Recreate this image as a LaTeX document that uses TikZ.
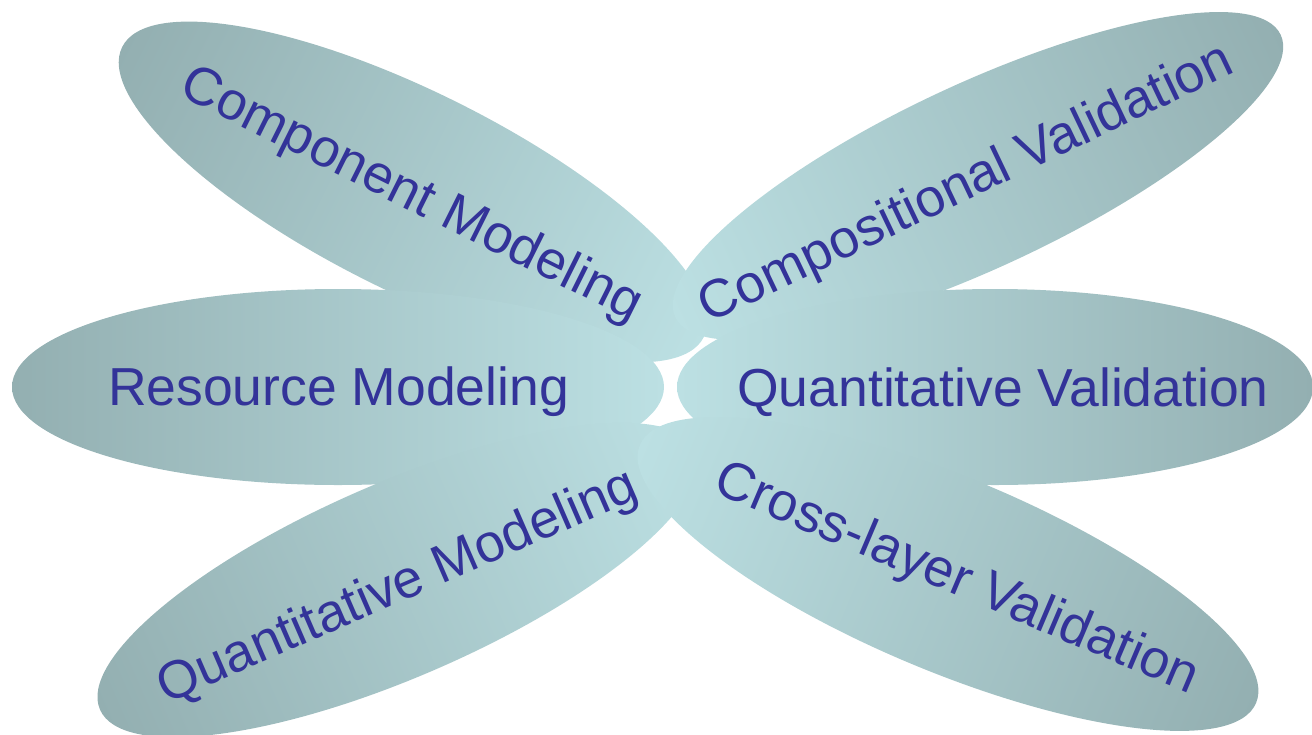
\documentclass[tikz,border=0pt]{standalone}
\usepackage{fontspec}
\setmainfont{Liberation Sans}
\definecolor{petaldark}{HTML}{93AFB1}
\definecolor{petallight}{HTML}{BCE0E3}
\definecolor{petalink}{HTML}{333399}
\begin{document}
\begin{tikzpicture}[x=1pt,y=-1pt,
  petaltext/.style={text=petalink, font=\fontsize{53.5}{60}\selectfont,
    anchor=base, inner sep=0pt},
  inward/.style={left color=petaldark, right color=petallight},
  outward/.style={left color=petallight, right color=petaldark}]
\useasboundingbox (0,0) rectangle (1312,734);

% six elliptic petals, shaded from the centre outwards
\begin{scope}[transform canvas={shift={(413,192)},rotate=-26.5}]
  \shade[inward] (0,0) ellipse (325 and 100);
\end{scope}
\begin{scope}[transform canvas={shift={(978,176)},rotate=25}]
  \shade[outward] (0,0) ellipse (334 and 92);
\end{scope}
\begin{scope}[transform canvas={shift={(338,387)}}]
  \shade[inward] (0,0) ellipse (326 and 98);
\end{scope}
\begin{scope}[transform canvas={shift={(995,387)}}]
  \shade[outward] (0,0) ellipse (318 and 98);
\end{scope}
\begin{scope}[transform canvas={shift={(398,580)},rotate=23.5}]
  \shade[inward] (0,0) ellipse (325 and 97);
\end{scope}
\begin{scope}[transform canvas={shift={(948,574)},rotate=-22.7}]
  \shade[outward] (0,0) ellipse (334 and 97);
\end{scope}

% petal captions
\node[petaltext, rotate=-26.5] (component) at (405,208) {Component Modeling};
\node[petaltext, rotate=25.5] (compositional) at (972.6,197.9) {Compositional Validation};
\node[petaltext] (resource) at (338.5,405) {Resource Modeling};
\node[petaltext] (quantval) at (1003,406) {Quantitative Validation};
\node[petaltext, rotate=23.5] (quantmod) at (403.6,601) {Quantitative Modeling};
\node[petaltext, rotate=-23] (crosslayer) at (951,592.8) {Cross-layer Validation};
\end{tikzpicture}
\end{document}
